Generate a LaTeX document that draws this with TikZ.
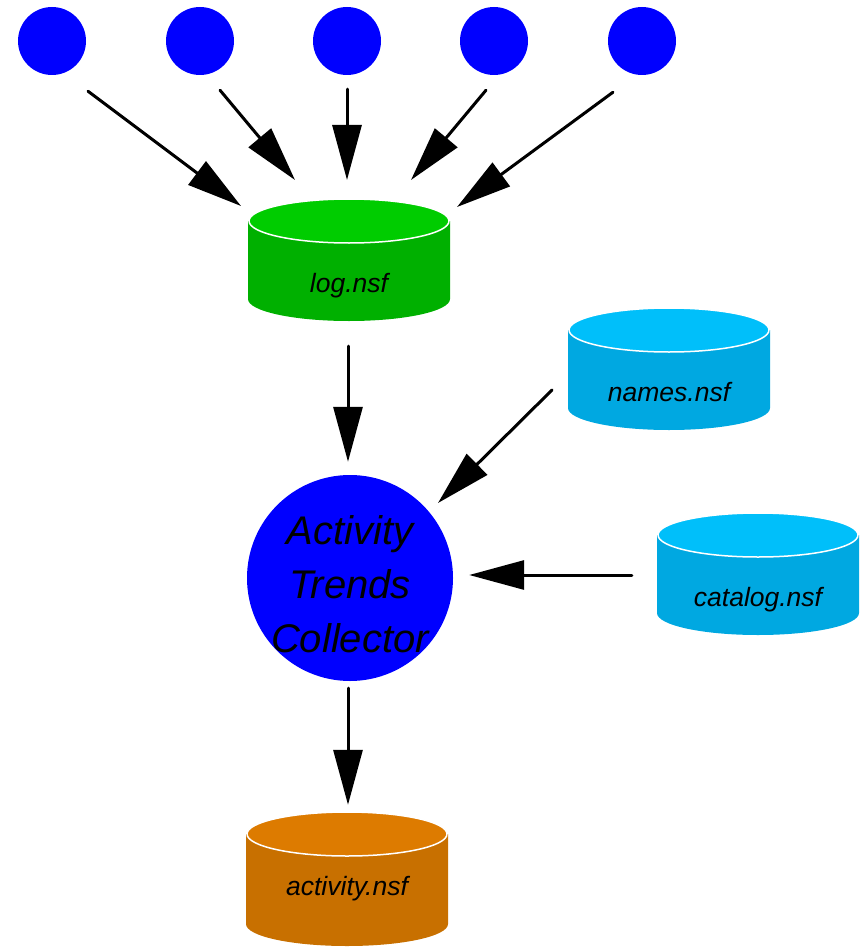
\documentclass[tikz,border=0pt]{standalone}
\usepackage{fontspec}
\setmainfont{Liberation Sans}
\usetikzlibrary{arrows.meta}
\definecolor{userblue}{RGB}{0,0,255}
\definecolor{logtop}{RGB}{0,204,0}
\definecolor{logbody}{RGB}{0,176,0}
\definecolor{nsftop}{RGB}{0,191,250}
\definecolor{nsfbody}{RGB}{0,168,225}
\definecolor{acttop}{RGB}{221,123,0}
\definecolor{actbody}{RGB}{200,112,0}

\begin{document}
\begin{tikzpicture}[x=1pt, y=-1pt, line cap=round, line join=round,
	>={Triangle[length=55pt, width=29pt]},
	arr/.style={->, line width=3pt},
	user/.style={circle, fill=userblue, minimum size=68pt, inner sep=0pt},
	% database cylinder: body first, then the top lid with a white rim
	db/.style={rectangle, minimum width=202pt, minimum height=122pt, inner sep=0pt,
		text height=70pt, text depth=6pt, font=\fontsize{26.5}{30}\selectfont\itshape,
		path picture={
			\fill[#1body] ([yshift=-22pt]path picture bounding box.north west)
				-- ([yshift=22pt]path picture bounding box.south west)
				arc[start angle=180, end angle=360, x radius=101pt, y radius=22pt]
				-- ([yshift=-22pt]path picture bounding box.north east) -- cycle;
			\filldraw[fill=#1top, draw=white, line width=1.5pt]
				([yshift=-22pt]path picture bounding box.north) ellipse[x radius=100pt, y radius=22pt];
		}},
	collector/.style={circle, fill=userblue, minimum size=206pt, inner sep=0pt},
	colltext/.style={anchor=center, yshift=-6pt, align=center, font=\fontsize{40}{54}\selectfont\itshape}]
	\useasboundingbox (0,0) rectangle (861,947);

	% users feeding the log
	\foreach \x [count=\i] in {52,200,347,494,642}
		\node[user] (u\i) at (\x,41) {};

	% databases
	\node[db=log] (log) at (349,260) {log.nsf};
	\node[db=nsf] (names) at (669,369) {names.nsf};
	\node[db=nsf] (catalog) at (758,574) {catalog.nsf};
	\node[db=act, minimum height=134pt, text height=38pt] (activity) at (347,879) {activity.nsf};

	% collector task
	\node[collector, label={[colltext]center:Activity\\Trends\\Collector}] (coll) at (350,578) {};

	% arrows
	\draw[arr] ([shift={(36,16)}]u1.south) -- ([shift={(-108,-54)}]log.center);
	\draw[arr] ([shift={(20,15)}]u2.south) -- ([shift={(-54,-80)}]log.center);
	\draw[arr] ([shift={(0,14)}]u3.south) -- ([shift={(-2,-80)}]log.center);
	\draw[arr] ([shift={(-8,15)}]u4.south) -- ([shift={(62,-80)}]log.center);
	\draw[arr] ([shift={(-29,17)}]u5.south) -- ([shift={(108,-53)}]log.center);
	\draw[arr] ([shift={(-1,25)}]log.south) -- ([shift={(-2,-13)}]coll.north);
	\draw[arr] ([shift={(-117,21)}]names.center) -- ([shift={(88,-75)}]coll.center);
	\draw[arr] ([shift={(-25,1)}]catalog.west) -- ([shift={(16,-3)}]coll.east);
	\draw[arr] ([shift={(-2,7)}]coll.south) -- ([shift={(1,-7)}]activity.north);
\end{tikzpicture}
\end{document}
